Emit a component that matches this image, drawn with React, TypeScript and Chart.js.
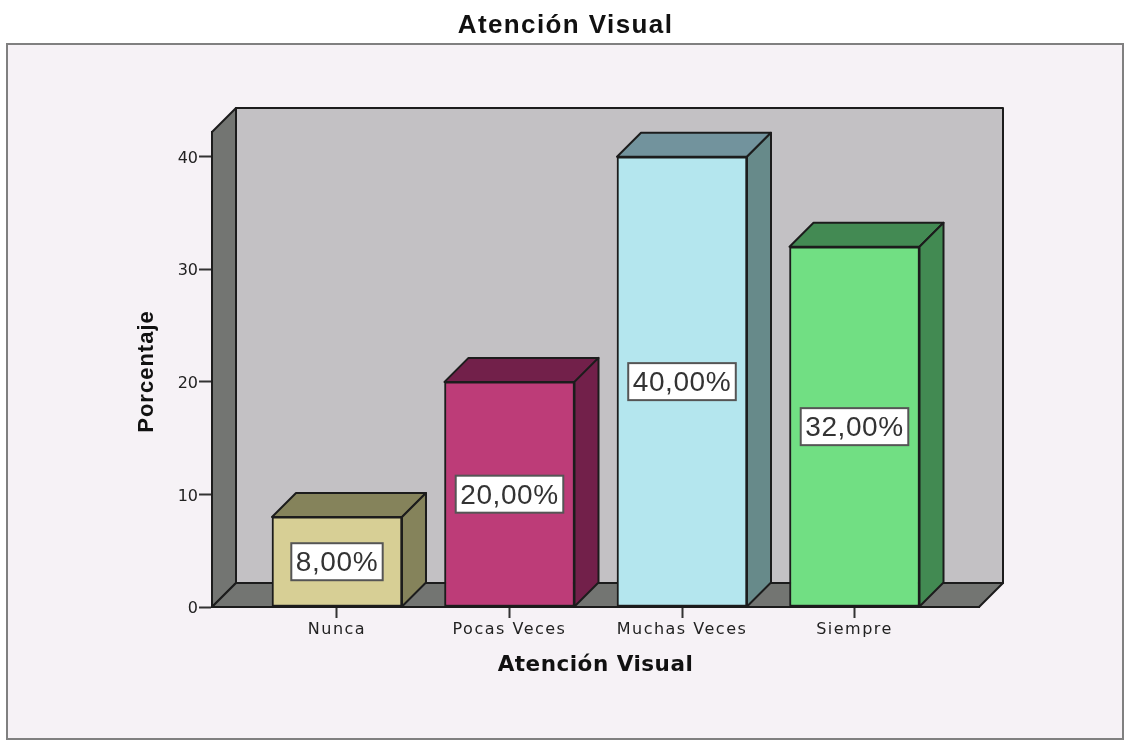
import React, { useEffect, useRef } from "react";
import { Chart, registerables } from "chart.js";

Chart.register(...registerables);

const categories = ["Nunca", "Pocas Veces", "Muchas Veces", "Siempre"];
const percentages = [8, 20, 40, 32];
const faceColors = ["#d7cf95", "#bd3c78", "#b4e6ee", "#71df83"];
const topColors = ["#85835b", "#72204a", "#72939d", "#438a53"];
const sideColors = ["#85835b", "#72204a", "#678a8a", "#428a52"];

const DEPTH = 24;
const INK = "#1c1c1c";

// Runs one drawing method of a chart element with a given letter spacing and shift.
function spaced(target: any, method: string, spacing: string, shiftX = 0, shiftY = 0) {
  const flag = "__spaced_" + method;
  if (target[flag]) return;
  target[flag] = true;
  const original = target[method];
  target[method] = function (...args: any[]) {
    const ctx = target.ctx;
    ctx.save();
    ctx.letterSpacing = spacing;
    ctx.translate(shiftX, shiftY);
    original.apply(target, args);
    ctx.restore();
  };
}

const frame3d = {
  id: "frame3d",
  beforeDraw(chart: any) {
    const { ctx } = chart;
    ctx.save();
    ctx.fillStyle = "#f6f2f6";
    ctx.strokeStyle = "#808080";
    ctx.lineWidth = 2;
    ctx.fillRect(7, 44, 1116, 695);
    ctx.strokeRect(7, 44, 1116, 695);
    ctx.restore();
    spaced(chart.titleBlock, "draw", "1.4px", 12);
    spaced(chart.scales.x, "drawLabels", "1.5px");
    spaced(chart.scales.x, "drawTitle", "0.5px");
    spaced(chart.scales.y, "drawTitle", "1px", 0, 2);
  },
  beforeDatasetsDraw(chart: any) {
    const { ctx, chartArea: a } = chart;
    const poly = (pts: number[][], fill: string) => {
      ctx.beginPath();
      pts.forEach((p, i) => (i ? ctx.lineTo(p[0], p[1]) : ctx.moveTo(p[0], p[1])));
      ctx.closePath();
      ctx.fillStyle = fill;
      ctx.fill();
      ctx.stroke();
    };
    ctx.save();
    ctx.strokeStyle = INK;
    ctx.lineWidth = 2;
    ctx.lineJoin = "round";
    const d = DEPTH;
    poly([[a.left + d, a.top - d], [a.right + d, a.top - d], [a.right + d, a.bottom - d], [a.left + d, a.bottom - d]], "#c3c1c4");
    poly([[a.left, a.top], [a.left + d, a.top - d], [a.left + d, a.bottom - d], [a.left, a.bottom]], "#737572");
    poly([[a.left, a.bottom], [a.left + d, a.bottom - d], [a.right + d, a.bottom - d], [a.right, a.bottom]], "#737572");
    const meta = chart.getDatasetMeta(0);
    meta.data.forEach((bar: any, i: number) => {
      const w = bar.width / 2;
      const l = bar.x - w;
      const r = bar.x + w;
      const t = bar.y;
      const b = bar.base;
      poly([[l, t], [l + d, t - d], [r + d, t - d], [r, t]], topColors[i]);
      poly([[r, t], [r + d, t - d], [r + d, b - d], [r, b]], sideColors[i]);
    });
    ctx.restore();
  },
  afterDatasetsDraw(chart: any) {
    const { ctx } = chart;
    const meta = chart.getDatasetMeta(0);
    ctx.save();
    ctx.letterSpacing = "0.6px";
    ctx.font = "28px 'Liberation Sans'";
    ctx.textAlign = "center";
    ctx.textBaseline = "middle";
    meta.data.forEach((bar: any, i: number) => {
      const text = percentages[i].toFixed(2).replace(".", ",") + "%";
      const cy = (bar.y + bar.base) / 2;
      const tw = ctx.measureText(text).width;
      const bw = tw + 9;
      const bh = 37;
      ctx.fillStyle = "#ffffff";
      ctx.strokeStyle = "#555555";
      ctx.lineWidth = 2;
      ctx.fillRect(bar.x - bw / 2, cy - bh / 2, bw, bh);
      ctx.strokeRect(bar.x - bw / 2, cy - bh / 2, bw, bh);
      ctx.fillStyle = "#333333";
      ctx.fillText(text, bar.x, cy + 2);
    });
    ctx.restore();
  },
};

export default function App() {
  const ref = useRef<HTMLCanvasElement>(null);
  useEffect(() => {
    const chart = new Chart(ref.current!, {
      type: "bar",
      data: {
        datasets: [
          {
            data: percentages.map((y, x) => ({ x, y })),
            backgroundColor: faceColors,
            borderColor: INK,
            borderWidth: 2,
            borderSkipped: false,
            barThickness: 130,
          },
        ],
      },
      options: {
        responsive: false,
        devicePixelRatio: 1,
        animation: false,
        layout: { padding: { left: 128, right: 148, top: 6, bottom: 62 } },
        plugins: {
          legend: { display: false },
          tooltip: { enabled: false },
          title: {
            display: true,
            text: "Atención Visual",
            color: "#111111",
            font: { family: "'Liberation Sans'", size: 26, weight: "bold", lineHeight: 1.2 },
            padding: { top: 4, bottom: 90.8 },
          },
        },
        scales: {
          x: {
            type: "linear",
            offset: false,
            min: -0.7246,
            max: 3.7217,
            afterFit(s: any) {
              s.height = 71;
            },
            grid: { offset: false, display: true, drawOnChartArea: false, drawTicks: true, tickLength: 11, tickColor: "#333333", tickWidth: 2 },
            border: { display: true, color: INK, width: 2 },
            ticks: {
              stepSize: 1,
              includeBounds: false,
              maxRotation: 0,
              autoSkip: false,
              padding: 2,
              color: "#222222",
              font: { family: "'DejaVu Sans'", size: 16 },
              callback: (v: any) => categories[v] ?? "",
            },
            title: {
              display: true,
              text: "Atención Visual",
              color: "#111111",
              font: { family: "'DejaVu Sans'", size: 21.5, weight: "bold" },
              padding: { top: 0, bottom: 0 },
            },
          },
          y: {
            min: 0,
            max: 42.2,
            afterFit(s: any) {
              s.width = 84;
            },
            grid: { display: true, drawOnChartArea: false, drawTicks: true, tickLength: 13, tickColor: "#333333", tickWidth: 2 },
            border: { display: true, color: INK, width: 2 },
            ticks: {
              stepSize: 10,
              includeBounds: false,
              padding: 1,
              labelOffset: 2,
              color: "#222222",
              font: { family: "'DejaVu Sans'", size: 16 },
            },
            title: {
              display: true,
              text: "Porcentaje",
              color: "#111111",
              font: { family: "'Liberation Sans'", size: 22, weight: "bold" },
              padding: { top: 6, bottom: 0 },
            },
          },
        },
      },
      plugins: [frame3d],
    } as any);
    return () => chart.destroy();
  }, []);
  return (
    <div style={{ position: "fixed", left: 0, top: 0 }}>
      <canvas ref={ref} width={1127} height={740} style={{ display: "block", filter: "blur(0.4px)" }} />
    </div>
  );
}
